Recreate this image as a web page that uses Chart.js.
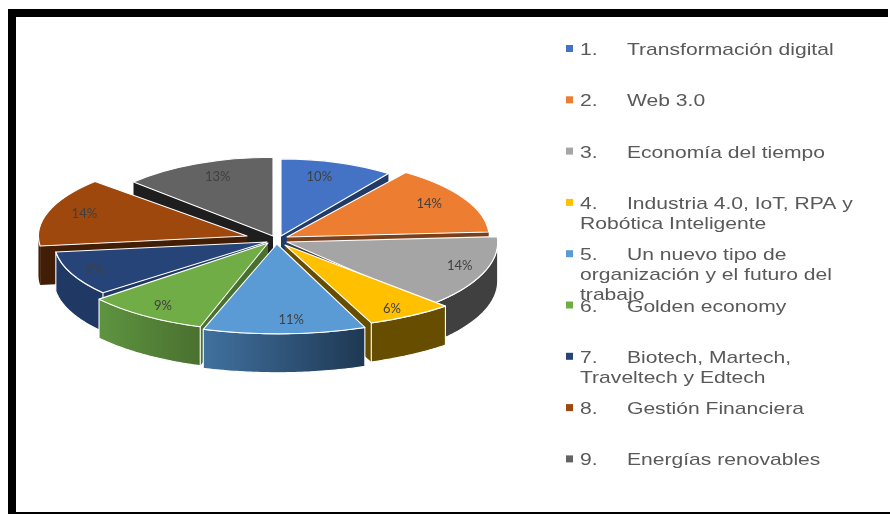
<!DOCTYPE html>
<html>
<head>
<meta charset="utf-8">
<script src="https://cdn.jsdelivr.net/npm/chart.js@4"></script>
<style>
html,body{margin:0;padding:0;background:#fff;width:890px;height:514px;overflow:hidden}
#wrap{position:absolute;left:0;top:0;width:890px;height:514px}
#c{position:absolute;left:0;top:0;filter:blur(0.5px)}
.f{position:absolute;background:#000}
</style>
</head>
<body>
<div id="wrap">
<div class="f" style="left:8px;top:9px;width:880px;height:8px"></div>
<div class="f" style="left:8px;top:9px;width:8px;height:505px"></div>
<div class="f" style="left:8px;top:512px;width:882px;height:2px"></div>
<canvas id="c" width="890" height="514"></canvas>
</div>
<script>
const categories = ['Transformación digital','Web 3.0','Economía del tiempo','Industria 4.0, IoT, RPA y Robótica Inteligente','Un nuevo tipo de organización y el futuro del trabajo','Golden economy','Biotech, Martech, Traveltech y Edtech','Gestión Financiera','Energías renovables'];
const values = [10,14,14,6,11,9,9,14,13];
const legendLines = [['Transformación digital'],['Web 3.0'],['Economía del tiempo'],['Industria 4.0, IoT, RPA y','Robótica Inteligente'],['Un nuevo tipo de','organización y el futuro del','trabajo'],['Golden economy'],['Biotech, Martech,','Traveltech y Edtech'],['Gestión Financiera'],['Energías renovables']];
const topColors = ['#4472C4','#ED7D31','#A5A5A5','#FFC000','#5B9BD5','#70AD47','#264478','#9E480E','#636363'];
const wallLeft  = ['#223A66','#7A401A','#404040','#664D00','#41719F','#5E9440','#1F3864','#431E06','#1E1E1E'];
const wallRight = ['#223A66','#7A401A','#404040','#664D00','#1E3853','#4A7030','#1F3864','#431E06','#1E1E1E'];
// per-slice explosion and perspective styling
const sliceDX = [6,12,12,10,2,-7,-8,-28,-2];
const sliceDY = [-5,-4,1,4,3,2,1,-5,-5];
const sliceSX = [0.85,0.94,0.98,1.09,1.11,1.02,0.99,0.97,0.89];
const sliceSY = [0.92,0.95,1.02,1.0,1.07,1.05,0.95,0.95,0.94];
const labelNudgeX = [-8,-3,12,4,8,-4,-12,0,7];
const labelNudgeY = [1,-2,-2,6,2,3,1,-2,0];
const FLAT = 0.39, DEPTH = 39, RADIUS = 215;

const pie3d = {
  id:'pie3d',
  beforeDatasetDraw(chart, args){
    const ctx = chart.ctx;
    const arcs = chart.getDatasetMeta(args.index).data;
    const order = arcs.map((a,i)=>i).sort((p,q)=>{
      const m = i => (arcs[i].startAngle+arcs[i].endAngle)/2;
      return Math.sin(m(p)) - Math.sin(m(q));
    });
    const total = values.reduce((a,b)=>a+b,0);
    const geo = i => {
      const a = arcs[i], mid = (a.startAngle+a.endAngle)/2;
      return {a, mid, x:a.x+sliceDX[i], y:a.y+sliceDY[i], sx:sliceSX[i], sy:sliceSY[i]*FLAT, r:a.outerRadius};
    };
    const stroke = () => {ctx.strokeStyle='#fff';ctx.lineWidth=1.1;ctx.lineJoin='round';ctx.stroke();};
    order.forEach(i=>{
      const g = geo(i), a = g.a;
      const P = (ang,d) => [g.x+g.sx*g.r*Math.cos(ang), g.y+g.sy*g.r*Math.sin(ang)+d];
      const face = (ang) => {
        const e0=P(ang,0), e1=P(ang,DEPTH);
        ctx.beginPath();ctx.moveTo(g.x,g.y);ctx.lineTo(e0[0],e0[1]);ctx.lineTo(e1[0],e1[1]);ctx.lineTo(g.x,g.y+DEPTH);ctx.closePath();
        ctx.fillStyle=wallRight[i];ctx.fill();
      };
      if(Math.cos(a.startAngle)<0) face(a.startAngle);
      if(Math.cos(a.endAngle)>0) face(a.endAngle);
      const r0=Math.max(a.startAngle,0), r1=Math.min(a.endAngle,Math.PI);
      if(r1>r0){
        const L=P(r1,0)[0], R=P(r0,0)[0];
        const grad=ctx.createLinearGradient(Math.min(L,R),0,Math.max(L,R)+0.01,0);
        grad.addColorStop(0,wallLeft[i]);grad.addColorStop(1,wallRight[i]);
        ctx.beginPath();
        const n=48;
        for(let s=0;s<=n;s++){const p=P(r0+(r1-r0)*s/n,0);s?ctx.lineTo(p[0],p[1]):ctx.moveTo(p[0],p[1]);}
        for(let s=n;s>=0;s--){const p=P(r0+(r1-r0)*s/n,DEPTH);ctx.lineTo(p[0],p[1]);}
        ctx.closePath();ctx.fillStyle=grad;ctx.fill();
        if(r1-r0>0.2) stroke();
      }
      ctx.save();
      ctx.translate(g.x,g.y);ctx.scale(g.sx,g.sy);
      ctx.beginPath();ctx.moveTo(0,0);ctx.arc(0,0,g.r,a.startAngle,a.endAngle);ctx.closePath();
      ctx.restore();
      ctx.fillStyle=a.options.backgroundColor;ctx.fill();stroke();
    });
    ctx.font='13px Lato, "Liberation Sans", sans-serif';
    ctx.fillStyle='#404040';ctx.textAlign='center';ctx.textBaseline='middle';
    arcs.forEach((a,i)=>{
      const g=geo(i);
      const lx=g.x+g.sx*g.r*0.82*Math.cos(g.mid)+labelNudgeX[i], ly=g.y+g.sy*g.r*0.82*Math.sin(g.mid)+labelNudgeY[i];
      ctx.fillText(Math.round(values[i]/total*100)+'%',lx,ly);
    });
    return false;
  },
  afterDraw(chart){
    const ctx=chart.ctx;
    const pitch=51.3, first=55, stretch=1.24;
    const put=(t,x,y)=>{ctx.save();ctx.translate(x,y);ctx.scale(stretch,1);ctx.fillText(t,0,0);ctx.restore();};
    ctx.save();
    ctx.font='17px "Liberation Sans", Arial, sans-serif';
    ctx.textAlign='left';ctx.textBaseline='alphabetic';
    legendLines.forEach((lines,i)=>{
      const y=first+pitch*i;
      ctx.fillStyle=topColors[i];ctx.fillRect(566,y-10,7,7);
      ctx.fillStyle='#595959';
      put((i+1)+'.',580,y);
      put(lines[0],627,y);
      lines.slice(1).forEach((t,j)=>put(t,580,y+(j+1)*20));
    });
    ctx.restore();
  }
};

new Chart(document.getElementById('c'),{
  type:'pie',
  data:{labels:categories,datasets:[{data:values,backgroundColor:topColors,borderWidth:0,radius:RADIUS,clip:false}]},
  options:{
    responsive:false,animation:false,
    layout:{padding:{left:0,top:0,right:340,bottom:32}},
    plugins:{legend:{display:false},tooltip:{enabled:false}}
  },
  plugins:[pie3d]
});
</script>
</body>
</html>
